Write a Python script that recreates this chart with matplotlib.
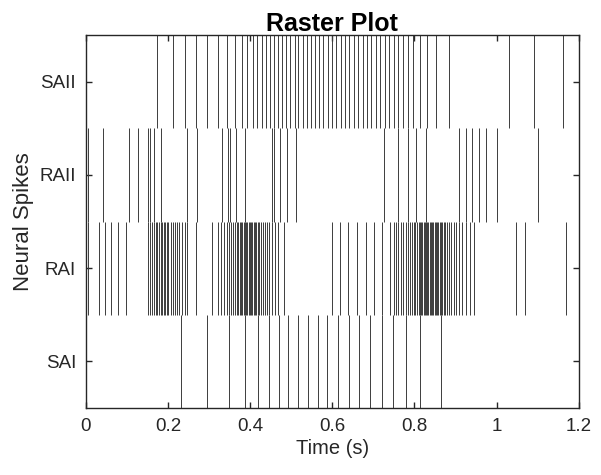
import matplotlib
matplotlib.use('Agg')
import matplotlib.pyplot as plt

# spike times (s) per neuron type
sai_spikes = [0.2325, 0.295, 0.348, 0.388, 0.419, 0.445, 0.470, 0.492, 0.516, 0.540,
              0.564, 0.588, 0.614, 0.640, 0.666, 0.692, 0.720, 0.748, 0.779, 0.813, 0.864]

rai_spikes = [0.006, 0.031, 0.047, 0.062, 0.077, 0.098,
              0.152, 0.157, 0.162, 0.166, 0.170, 0.174, 0.178, 0.182, 0.185, 0.189,
              0.193, 0.197, 0.201, 0.206, 0.211, 0.216, 0.221, 0.227, 0.233, 0.240,
              0.246, 0.269,
              0.306, 0.321, 0.329, 0.337, 0.343, 0.348, 0.354, 0.359, 0.363, 0.367,
              0.371, 0.375, 0.378, 0.381, 0.384, 0.387, 0.390, 0.393, 0.396, 0.399,
              0.402, 0.405, 0.408, 0.411, 0.414, 0.418, 0.422, 0.426, 0.430, 0.435,
              0.440, 0.445, 0.452, 0.460, 0.468, 0.482,
              0.598, 0.618, 0.638, 0.660, 0.682, 0.701, 0.720, 0.741, 0.749, 0.755,
              0.761, 0.767, 0.773, 0.779, 0.784, 0.789, 0.794, 0.798, 0.802, 0.806,
              0.810, 0.813, 0.816, 0.819, 0.822, 0.825, 0.828, 0.831, 0.834, 0.837,
              0.840, 0.843, 0.846, 0.849, 0.852, 0.855, 0.858, 0.861, 0.864, 0.867,
              0.871, 0.875, 0.879, 0.884, 0.889, 0.895, 0.901, 0.908, 0.916, 0.925,
              0.935, 0.945, 1.046, 1.069, 1.169]

raii_spikes = [0.005, 0.041, 0.106, 0.126, 0.151, 0.157, 0.165, 0.183, 0.246, 0.270,
               0.331, 0.346, 0.351, 0.365, 0.388, 0.452, 0.458, 0.472, 0.489, 0.511,
               0.725, 0.759, 0.783, 0.804, 0.829, 0.909, 0.925, 0.940, 0.957, 0.973,
               1.000, 1.101]

saii_spikes = [0.174, 0.213, 0.2415, 0.269, 0.295, 0.321, 0.343, 0.362, 0.379, 0.393,
               0.406, 0.416, 0.428, 0.438, 0.449, 0.458, 0.468, 0.478, 0.487, 0.498,
               0.508, 0.517, 0.528, 0.538, 0.547, 0.557, 0.568, 0.578, 0.589, 0.599,
               0.610, 0.620, 0.631, 0.641, 0.652, 0.663, 0.674, 0.684, 0.695, 0.706,
               0.717, 0.728, 0.738, 0.750, 0.761, 0.772, 0.784, 0.797, 0.813, 0.830,
               0.852, 0.883, 1.030, 1.092, 1.161]

row_names = ['SAI', 'RAI', 'RAII', 'SAII']
x_ticks = [0, 0.2, 0.4, 0.6, 0.8, 1.0, 1.2]
x_tick_labels = ['0', '0.2', '0.4', '0.6', '0.8', '1', '1.2']

plt.rcParams['font.family'] = ['Liberation Sans', 'DejaVu Sans']
text_col = '#262626'

fig = plt.figure(figsize=(6.01, 4.75), dpi=100)
ax = fig.add_axes([0.143, 0.141, 0.820, 0.785])

ax.eventplot([sai_spikes, rai_spikes, raii_spikes, saii_spikes],
             lineoffsets=[1, 2, 3, 4], linelengths=1.0,
             colors='#3c3c3c', linewidths=0.7)

ax.set_xlim(0, 1.2)
ax.set_ylim(0.5, 4.5)
ax.set_xticks(x_ticks)
ax.set_xticklabels(x_tick_labels)
ax.set_yticks([1, 2, 3, 4])
ax.set_yticklabels(row_names)

ax.tick_params(direction='in', top=True, right=True, length=4, width=1,
               labelsize=13.5, colors=text_col, pad=7)
for sp in ax.spines.values():
    sp.set_color(text_col)
    sp.set_linewidth(1)

ax.set_xlabel('Time (s)', fontsize=14.5, color=text_col, labelpad=3)
ax.set_ylabel('Neural Spikes', fontsize=16, color=text_col, labelpad=4)
ax.set_title('Raster Plot', fontsize=18, fontweight='bold', color='black', pad=3)

fig.savefig('out.png', dpi=100)
